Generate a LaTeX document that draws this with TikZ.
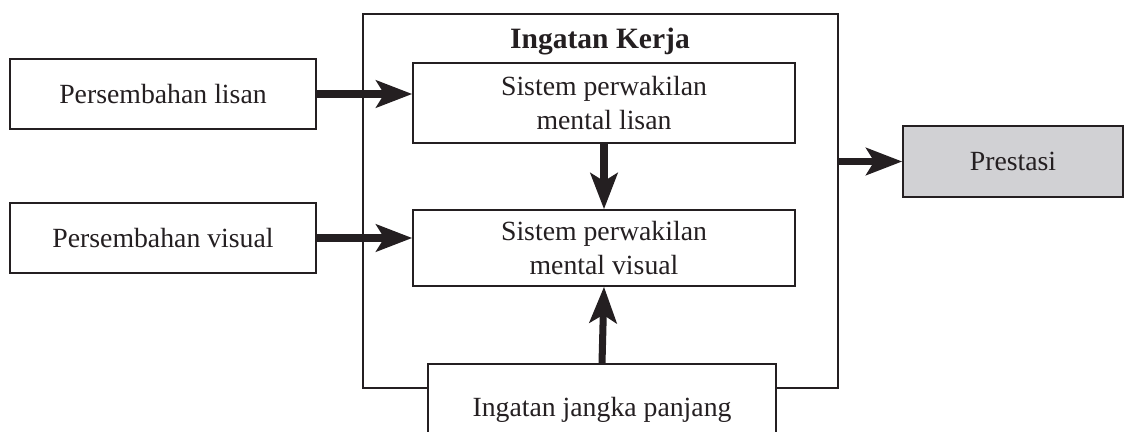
\documentclass[tikz,border=0pt]{standalone}
\usepackage{fontspec}
\setmainfont{Liberation Serif}
\usetikzlibrary{positioning,arrows.meta}
\definecolor{myink}{rgb}{0.14,0.12,0.13}
\definecolor{mygrey}{rgb}{0.82,0.82,0.83}

\tikzset{
  plainbox/.style={draw=myink, line width=0.9pt, fill=white, align=center, inner sep=0pt},
  fatarrow/.style={draw=myink, line width=4pt, -{Stealth[length=7.2mm,width=5.4mm,inset=1.6mm]}}
}

\begin{document}
\begin{tikzpicture}[x=0.02cm, y=-0.02cm, font=\fontsize{15.8}{19}\selectfont, text=myink]
\useasboundingbox (0,0) rectangle (1125,432);

% Working memory frame
\node[draw=myink, line width=1.4pt, minimum width=9.5cm, minimum height=7.48cm] at (600.5,201)
(kerja) {};
\node at (600,42) (title) {\fontsize{16.8}{20}\selectfont\bfseries Ingatan Kerja};

% Inputs on the left
\node[plainbox, minimum width=6.12cm, minimum height=1.4cm] at (163,94)
(lisan) {Persembahan lisan};
\node[plainbox, minimum width=6.12cm, minimum height=1.4cm] at (163,238)
(visual) {Persembahan visual};

% Mental representation systems
\node[plainbox, minimum width=7.64cm, minimum height=1.6cm] at (604,103)
(mlisan) {Sistem perwakilan\\ mental lisan};
\node[plainbox, minimum width=7.64cm, minimum height=1.52cm] at (604,248)
(mvisual) {Sistem perwakilan\\ mental visual};

% Long-term memory
\node[plainbox, minimum width=6.96cm, minimum height=1.84cm] at (602,410)
(jangka) {Ingatan jangka panjang};

% Output
\node[plainbox, fill=mygrey, minimum width=4.4cm, minimum height=1.42cm] at (1013,161.5)
(prestasi) {Prestasi};

% arrows
\draw[fatarrow] (lisan.east) -- (lisan.east -| mlisan.west);
\draw[fatarrow] (visual.east) -- (visual.east -| mvisual.west);
\draw[fatarrow] (mlisan.south) -- (mvisual.north);
\draw[fatarrow] (jangka.north) -- (mvisual.south);
\draw[fatarrow] (prestasi.west -| kerja.east) -- (prestasi.west);

\end{tikzpicture}
\end{document}
